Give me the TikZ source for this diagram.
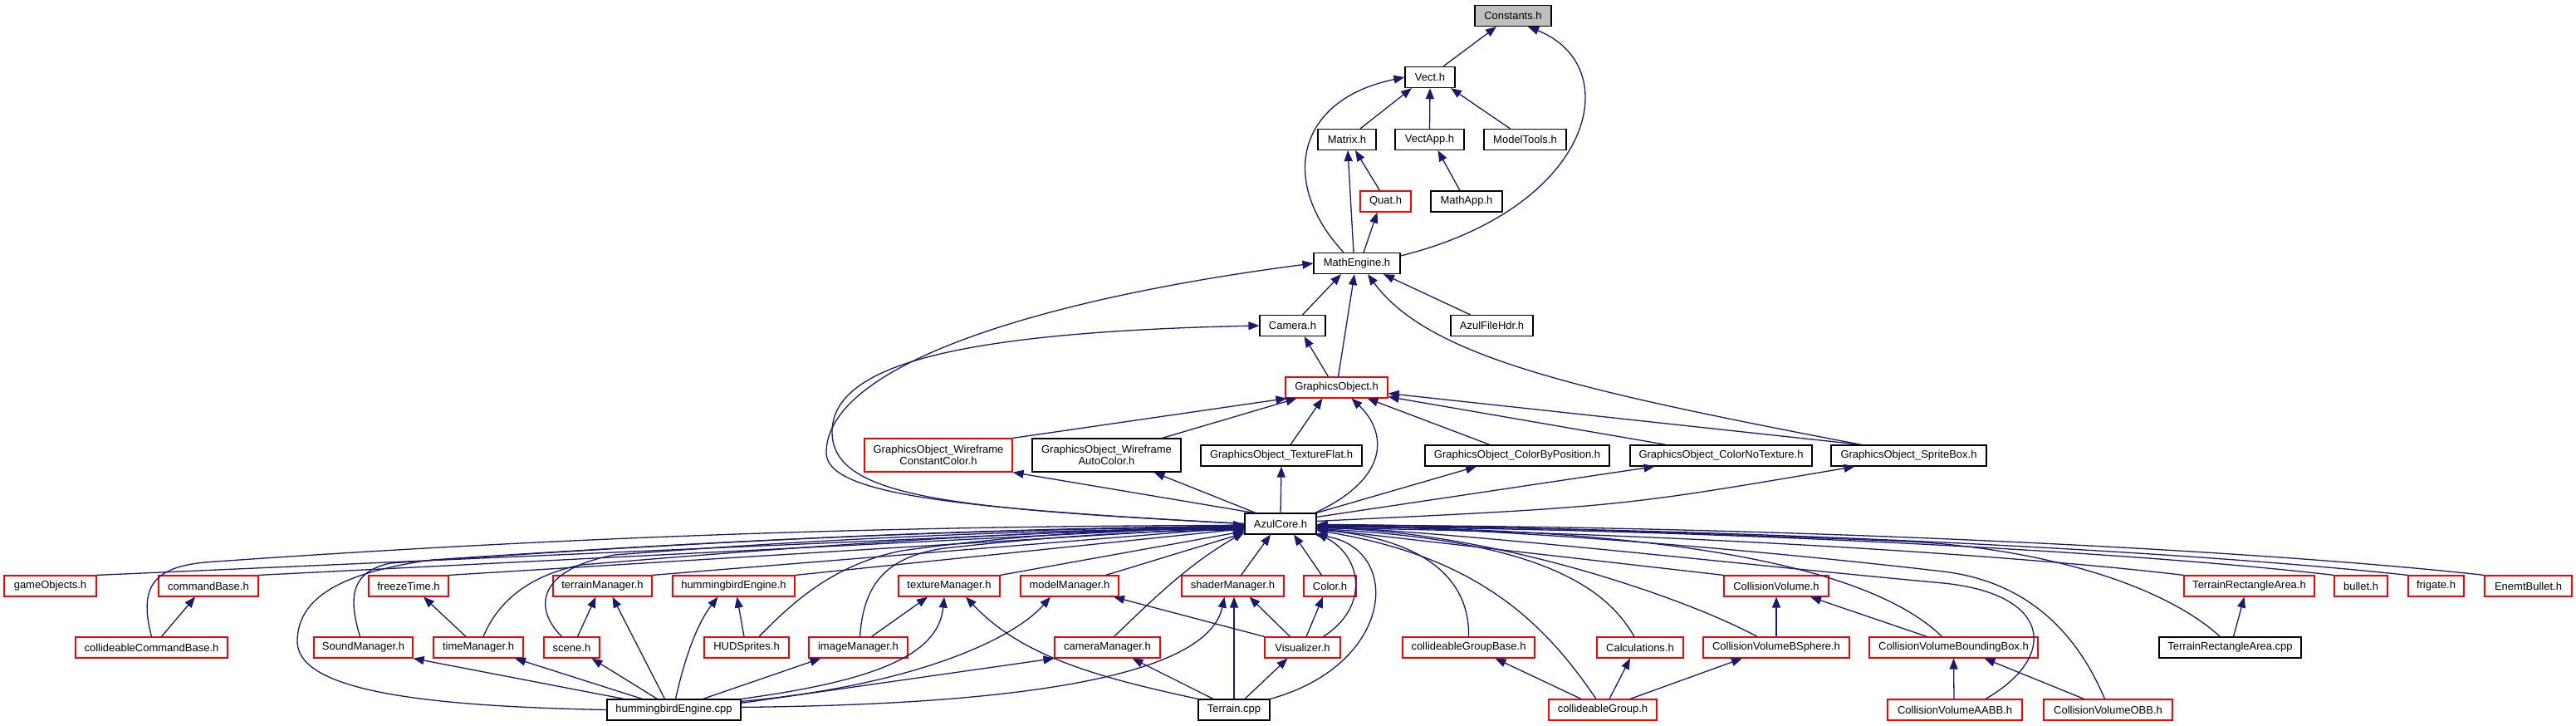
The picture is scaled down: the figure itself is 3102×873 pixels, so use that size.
\documentclass[tikz,border=0pt]{standalone}
\usepackage{fontspec}
\setmainfont{Liberation Sans}
\usepackage{tikz}
\usetikzlibrary{arrows.meta}
\definecolor{edgeblue}{RGB}{25,25,112}
\definecolor{rootgray}{RGB}{191,191,191}

\begin{document}
\begin{tikzpicture}[x=1pt,y=-1pt,
   f/.style={draw=black,line width=1.2pt,fill=white,minimum height=25pt,
             inner xsep=2pt,inner ysep=1pt,align=center,
             font=\fontsize{13pt}{14pt}\selectfont},
   fr/.style={f,draw=red},
   dep/.style={draw=edgeblue,line width=1.3pt,-{Triangle[length=13pt,width=10pt]}}]
  \useasboundingbox (0,0) rectangle (3102,873);
  % upper part
  \node[f,fill=rootgray,minimum width=92pt] (const) at (1822,19) {Constants.h};
  \node[f,minimum width=60pt] (vect) at (1722,93) {Vect.h};
  \node[f,minimum width=70pt] (matrix) at (1622,168) {Matrix.h};
  \node[f,minimum width=83pt] (vectapp) at (1721.5,168) {VectApp.h};
  \node[f,minimum width=99pt] (modeltools) at (1836.5,168) {ModelTools.h};
  \node[fr,minimum width=61pt] (quat) at (1668.5,242.5) {Quat.h};
  \node[f,minimum width=86pt] (mathapp) at (1766,242.5) {MathApp.h};
  \node[f,minimum width=104pt] (mathengine) at (1634,317) {MathEngine.h};
  \node[f,minimum width=79pt] (camera) at (1556.5,392) {Camera.h};
  \node[f,minimum width=99pt] (azulhdr) at (1796.5,392) {AzulFileHdr.h};
  \node[fr,minimum width=123pt] (gobj) at (1609.5,466.5) {GraphicsObject.h};
  \node[fr,minimum width=178pt,minimum height=40pt] (gowcc) at (1130,548) {GraphicsObject\_Wireframe\\ConstantColor.h};
  \node[f,minimum width=179pt,minimum height=40pt] (gowac) at (1332.5,548) {GraphicsObject\_Wireframe\\AutoColor.h};
  \node[f,minimum width=194pt] (gotf) at (1543,548.5) {GraphicsObject\_TextureFlat.h};
  \node[f,minimum width=222pt] (gocbp) at (1827,548.5) {GraphicsObject\_ColorByPosition.h};
  \node[f,minimum width=219pt] (gocnt) at (2072.5,548.5) {GraphicsObject\_ColorNoTexture.h};
  \node[f,minimum width=187pt] (gosb) at (2298.5,548.5) {GraphicsObject\_SpriteBox.h};
  \node[f,minimum width=86pt] (azul) at (1542,630.5) {AzulCore.h};
  % first row below AzulCore.h
  \node[fr,minimum width=111pt] (gameobj) at (60.5,705.5) {gameObjects.h};
  \node[fr,minimum width=120pt] (cmdbase) at (251,705.5) {commandBase.h};
  \node[fr,minimum width=96pt] (freeze) at (492,705.5) {freezeTime.h};
  \node[fr,minimum width=119pt] (terrmgr) at (725.5,705.5) {terrainManager.h};
  \node[fr,minimum width=147pt] (hbeh) at (883.5,705.5) {hummingbirdEngine.h};
  \node[fr,minimum width=122pt] (texmgr) at (1143,705.5) {textureManager.h};
  \node[fr,minimum width=118pt] (modmgr) at (1288,705.5) {modelManager.h};
  \node[fr,minimum width=123pt] (shdmgr) at (1484.5,705.5) {shaderManager.h};
  \node[fr,minimum width=63pt] (color) at (1601.5,705.5) {Color.h};
  \node[fr,minimum width=126pt] (colvol) at (2139,705.5) {CollisionVolume.h};
  \node[fr,minimum width=157pt] (trah) at (2708.5,705.5) {TerrainRectangleArea.h};
  \node[fr,minimum width=64pt] (bullet) at (2843,705.5) {bullet.h};
  \node[fr,minimum width=67pt] (frigate) at (2933.5,705.5) {frigate.h};
  \node[fr,minimum width=105pt] (enemt) at (3044.5,705.5) {EnemtBullet.h};
  % second row
  \node[fr,minimum width=183pt] (ccb) at (182.5,779.5) {collideableCommandBase.h};
  \node[fr,minimum width=119pt] (sound) at (437.5,779.5) {SoundManager.h};
  \node[fr,minimum width=108pt] (timemgr) at (576,779.5) {timeManager.h};
  \node[fr,minimum width=67pt] (scene) at (688.5,779.5) {scene.h};
  \node[fr,minimum width=102pt] (hud) at (899,779.5) {HUDSprites.h};
  \node[fr,minimum width=119pt] (imgmgr) at (1033.5,779.5) {imageManager.h};
  \node[fr,minimum width=127pt] (cammgr) at (1333.5,779.5) {cameraManager.h};
  \node[fr,minimum width=91pt] (visual) at (1568.5,779.5) {Visualizer.h};
  \node[fr,minimum width=159pt] (cgbase) at (1768.5,779.5) {collideableGroupBase.h};
  \node[fr,minimum width=104pt] (calc) at (1975,779.5) {Calculations.h};
  \node[fr,minimum width=176pt] (cvbs) at (2139,779.5) {CollisionVolumeBSphere.h};
  \node[fr,minimum width=203pt] (cvbb) at (2352.5,779.5) {CollisionVolumeBoundingBox.h};
  \node[f,minimum width=171pt] (tracpp) at (2685.5,779.5) {TerrainRectangleArea.cpp};
  % third row
  \node[f,minimum width=161pt] (hbecpp) at (811.5,854.5) {hummingbirdEngine.cpp};
  \node[f,minimum width=86pt] (terraincpp) at (1486,854.5) {Terrain.cpp};
  \node[fr,minimum width=130pt] (cgroup) at (1930,854.5) {collideableGroup.h};
  \node[fr,minimum width=162pt] (cvaabb) at (2354,854.5) {CollisionVolumeAABB.h};
  \node[fr,minimum width=155pt] (cvobb) at (2538.5,854.5) {CollisionVolumeOBB.h};

  % includes, upper part
  \draw[dep] ([xshift=16pt]vect.north) -- ([xshift=-20pt]const.south);
  \draw[dep] ([yshift=9pt]mathengine.east) .. controls (1920,250) and (1960,80) .. ([xshift=18pt]const.south);
  \draw[dep] ([xshift=16pt]matrix.north) -- ([xshift=-22pt]vect.south);
  \draw[dep] (vectapp.north) -- (vect.south);
  \draw[dep] ([xshift=-18pt]modeltools.north) -- ([xshift=25pt]vect.south);
  \draw[dep] ([xshift=-16pt]mathengine.north) .. controls (1540,220) and (1560,120) .. (vect.west);
  \draw[dep] ([xshift=-7pt]quat.north) -- ([xshift=10pt]matrix.south);
  \draw[dep] ([xshift=-4pt]mathengine.north) -- ([xshift=1pt]matrix.south);
  \draw[dep] ([xshift=8pt]mathengine.north) -- ([xshift=-10pt]quat.south);
  \draw[dep] ([xshift=-8pt]mathapp.north) -- ([xshift=10pt]vectapp.south);
  \draw[dep] ([xshift=12pt]camera.north) -- ([xshift=-19pt]mathengine.south);
  \draw[dep] ([xshift=2pt]gobj.north) -- ([xshift=-3pt]mathengine.south);
  \draw[dep] ([xshift=-26pt]azulhdr.north) -- ([xshift=32pt]mathengine.south);
  \draw[dep] ([xshift=-57pt]gosb.north) .. controls (1900,470) and (1720,430) .. ([xshift=13pt]mathengine.south);
  \draw[dep] (azul.west) .. controls (1150,612) and (995,595) .. (995,545)
     .. controls (995,440) and (1250,360) .. (mathengine.west);
  \draw[dep] (azul.west) .. controls (1150,612) and (1002,600) .. (1002,520)
     .. controls (1002,440) and (1150,400) .. (camera.west);
  \draw[dep] ([xshift=-10pt]gobj.north) -- ([xshift=14pt]camera.south);
  \draw[dep] (gowcc.north east) -- ([xshift=2pt]gobj.south west);
  \draw[dep] ([xshift=67pt]gowac.north) -- ([xshift=-48pt]gobj.south);
  \draw[dep] ([xshift=11pt]gotf.north) -- ([xshift=-17pt]gobj.south);
  \draw[dep] ([xshift=-2pt]azul.north east) .. controls (1675,575) and (1670,520) .. ([xshift=18pt]gobj.south);
  \draw[dep] ([xshift=-33pt]gocbp.north) -- ([xshift=37pt]gobj.south);
  \draw[dep] ([xshift=-66pt]gocnt.north) -- ([yshift=2pt]gobj.south east);
  \draw[dep] ([xshift=-57pt]gosb.north) -- ([yshift=6pt]gobj.south east);
  \draw[dep] ([xshift=-32pt]azul.north) -- (gowcc.south east);
  \draw[dep] ([xshift=-30pt]azul.north) -- ([xshift=57pt]gowac.south);
  \draw[dep] (azul.north) -- (gotf.south);
  \draw[dep] (azul.north east) -- ([xshift=-49pt]gocbp.south);
  \draw[dep] ([yshift=-5pt]azul.north east) -- ([xshift=-80pt]gocnt.south);
  \draw[dep] ([yshift=-10pt]azul.north east) .. controls (1950,610) .. ([xshift=-65pt]gosb.south);

  % includes of AzulCore.h
  \foreach \n/\dy in {gameobj/-1,cmdbase/-2,freeze/-3,terrmgr/-4,hbeh/-6,texmgr/-9}
    \draw[dep] (\n.north east) -- ([yshift=\dy pt]azul.west);
  \draw[dep] ([xshift=-16pt]modmgr.north east) -- ([yshift=2pt]azul.south west);
  \draw[dep] ([xshift=10pt]shdmgr.north) -- ([xshift=-12pt]azul.south);
  \draw[dep] ([xshift=-10pt]color.north) -- ([xshift=16pt]azul.south);
  \draw[dep] (colvol.north west) -- ([yshift=-6pt]azul.east);
  \draw[dep] (trah.north west) .. controls (2400,665) and (1950,640) .. ([yshift=-5pt]azul.east);
  \draw[dep] (bullet.north west) .. controls (2550,662) and (2000,635) .. ([yshift=-4pt]azul.east);
  \draw[dep] (frigate.north west) .. controls (2620,662) and (2050,634) .. ([yshift=-3pt]azul.east);
  \draw[dep] (enemt.north west) .. controls (2700,660) and (2100,632) .. ([yshift=-2pt]azul.east);
  \draw[dep] (ccb.north) .. controls (165,700) and (190,680) .. (260,676)
     .. controls (700,645) and (1100,633) .. ([yshift=-2pt]azul.west);
  \draw[dep] ([xshift=-4pt]sound.north) .. controls (418,715) and (425,688) .. (470,678)
     .. controls (800,655) and (1150,636) .. ([yshift=-3pt]azul.west);
  \draw[dep] (hbecpp.west) .. controls (500,850) and (355,830) .. (358,770)
     .. controls (360,715) and (420,688) .. (520,674)
     .. controls (850,652) and (1150,637) .. ([yshift=-4pt]azul.west);
  \draw[dep] ([xshift=6pt]timemgr.north) .. controls (595,735) and (625,695) .. (700,680)
     .. controls (1000,655) and (1250,638) .. ([yshift=-5pt]azul.west);
  \draw[dep] ([xshift=-12pt]scene.north) .. controls (640,730) and (650,685) .. (740,668)
     .. controls (1000,648) and (1250,637) .. ([yshift=-6pt]azul.west);
  \draw[dep] ([xshift=15pt]hud.north) .. controls (950,730) and (1000,680) .. (1086,663)
     .. controls (1250,640) and (1400,636) .. ([yshift=-7pt]azul.west);
  \draw[dep] ([xshift=2pt]imgmgr.north) .. controls (1040,700) and (1070,670) .. (1137,660)
     .. controls (1300,642) and (1420,638) .. ([yshift=-8pt]azul.west);
  \draw[dep] ([xshift=8pt]cammgr.north) .. controls (1390,720) and (1430,680) .. ([yshift=3pt]azul.south west);
  \draw[dep] (terraincpp.north east) .. controls (1680,800) and (1690,660) .. ([xshift=-2pt]azul.south east);
  \draw[dep] ([xshift=25pt]visual.north) .. controls (1650,730) and (1640,670) .. ([yshift=2pt]azul.south east);
  \draw[dep] (cgbase.north) .. controls (1770,700) and (1720,650) .. ([yshift=-7pt]azul.east);
  \draw[dep] ([xshift=-8pt]cgroup.north) .. controls (1860,750) and (1780,670) .. ([yshift=-8pt]azul.east);
  \draw[dep] ([xshift=-7pt]calc.north) .. controls (1930,700) and (1840,650) .. ([yshift=-6pt]azul.east);
  \draw[dep] ([xshift=-23pt]cvbs.north) .. controls (2030,720) and (1800,640) .. ([yshift=-5pt]azul.east);
  \draw[dep] ([xshift=-14pt]cvbb.north) .. controls (2250,680) and (2000,635) .. ([yshift=-4pt]azul.east);
  \draw[dep] ([xshift=37pt]cvaabb.north) .. controls (2480,790) and (2470,715) .. (2340,702)
     .. controls (2100,680) and (1800,645) .. ([yshift=-3pt]azul.east);
  \draw[dep] ([xshift=-4pt]cvobb.north) .. controls (2500,760) and (2440,700) .. (2340,688)
     .. controls (2100,660) and (1800,636) .. ([yshift=-2pt]azul.east);
  \draw[dep] ([xshift=-12pt]tracpp.north) .. controls (2600,700) and (2450,660) .. (2300,652)
     .. controls (2000,640) and (1750,632) .. ([yshift=-1pt]azul.east);

  % includes among the lower files
  \draw[dep] ([xshift=12pt]ccb.north) -- ([xshift=-16pt]cmdbase.south);
  \draw[dep] ([xshift=-15pt]timemgr.north) -- ([xshift=18pt]freeze.south);
  \draw[dep] ([xshift=7pt]scene.north) -- ([xshift=-8pt]terrmgr.south);
  \draw[dep] ([xshift=-11pt]hbecpp.north) -- ([xshift=12pt]terrmgr.south);
  \draw[dep] ([xshift=-60pt]hbecpp.north) -- (sound.south east);
  \draw[dep] ([xshift=-38pt]hbecpp.north) -- ([xshift=44pt]timemgr.south);
  \draw[dep] ([xshift=-20pt]hbecpp.north) -- ([xshift=24pt]scene.south);
  \draw[dep] ([xshift=2pt]hbecpp.north) .. controls (825,790) and (840,750) .. ([xshift=-19pt]hbeh.south);
  \draw[dep] ([xshift=-3pt]hud.north) -- ([xshift=4pt]hbeh.south);
  \draw[dep] ([xshift=35pt]hbecpp.north) -- ([xshift=-45pt]imgmgr.south);
  \draw[dep] ([xshift=16pt]imgmgr.north) -- ([xshift=-26pt]texmgr.south);
  \draw[dep] (hbecpp.north east) .. controls (1050,820) and (1130,790) .. ([xshift=-6pt]texmgr.south);
  \draw[dep] (terraincpp.north west) .. controls (1320,815) and (1230,790) .. ([xshift=20pt]texmgr.south);
  \draw[dep] ([yshift=-3pt]hbecpp.north east) .. controls (1100,825) and (1220,770) .. ([xshift=-23pt]modmgr.south);
  \draw[dep] ([yshift=-5pt]hbecpp.north east) -- (cammgr.south west);
  \draw[dep] ([yshift=-10pt]hbecpp.north east) .. controls (1250,848) and (1455,810) .. ([xshift=-10pt]shdmgr.south);
  \draw[dep] ([xshift=-25pt]terraincpp.north) -- ([xshift=30pt]cammgr.south);
  \draw[dep] (terraincpp.north) -- (terraincpp.north |- shdmgr.south);
  \draw[dep] ([xshift=13pt]terraincpp.north) -- ([xshift=-18pt]visual.south);
  \draw[dep] ([xshift=-15pt]visual.north) -- ([xshift=20pt]shdmgr.south);
  \draw[dep] (visual.north west) -- ([xshift=53pt]modmgr.south);
  \draw[dep] ([xshift=4.5pt]visual.north) -- ([xshift=-8.5pt]color.south);
  \draw[dep] ([xshift=-26pt]cgroup.north) -- ([xshift=32pt]cgbase.south);
  \draw[dep] ([xshift=8pt]cgroup.north) -- ([xshift=-12pt]calc.south);
  \draw[dep] ([xshift=33pt]cgroup.north) -- ([xshift=-41pt]cvbs.south);
  \draw[dep] (cvbs.north) -- (colvol.south);
  \draw[dep] ([xshift=-32pt]cvbb.north) -- ([xshift=41pt]colvol.south);
  \draw[dep] ([xshift=-1pt]cvaabb.north) -- (cvbb.south);
  \draw[dep] ([xshift=-29pt]cvobb.north) -- ([xshift=37pt]cvbb.south);
  \draw[dep] ([xshift=4pt]tracpp.north) -- ([xshift=-6pt]trah.south);
\end{tikzpicture}
\end{document}
